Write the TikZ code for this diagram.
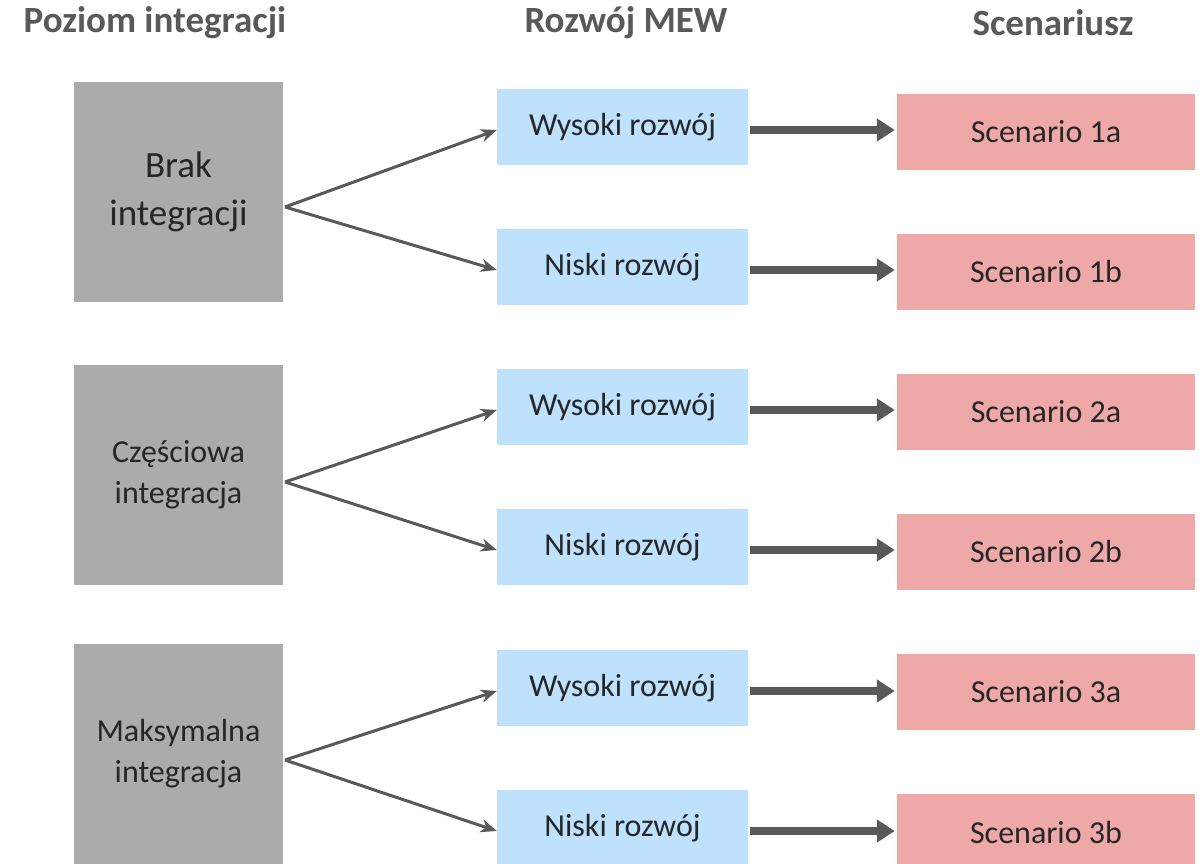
\documentclass[tikz,border=0pt]{standalone}
\usepackage{fontspec}
\setmainfont{Carlito}
\usetikzlibrary{arrows.meta}
\definecolor{boxgray}{RGB}{171,171,171}
\definecolor{boxblue}{RGB}{190,225,254}
\definecolor{boxred}{RGB}{238,168,168}
\definecolor{linegray}{RGB}{89,89,89}
\definecolor{textgray}{RGB}{38,38,38}
\tikzset{
heading/.style={font=\fontsize{37}{42}\selectfont\bfseries, text=linegray},
levelbox/.style={fill=boxgray, minimum width=209pt, minimum height=220pt,
	text=textgray, align=center, inner sep=0pt},
mewbox/.style={fill=boxblue, minimum width=251pt, minimum height=76pt,
	text=textgray, font=\fontsize{32}{38}\selectfont, inner sep=0pt},
scenbox/.style={fill=boxred, minimum width=298pt, minimum height=76pt,
	text=textgray, font=\fontsize{32}{38}\selectfont, inner sep=0pt},
branch/.style={draw=linegray, line width=3pt, -{Stealth[length=16pt,width=13pt,inset=5pt]}},
flow/.style={draw=linegray, line width=8pt, -{Triangle[length=18pt,width=22pt]}}
}

\begin{document}
\begin{tikzpicture}[x=1pt, y=-1pt]
	\useasboundingbox (0,0) rectangle (1202,864);
	\node[heading] (h1) at (155,23) {Poziom integracji};
	\node[heading] (h2) at (626,23) {Rozwój MEW};
	\node[heading] (h3) at (1053,23) {Scenariusz};

	\node[levelbox, font=\fontsize{37}{48}\selectfont] (g1) at (178.5,192) {Brak\\integracji};
	\node[levelbox, font=\fontsize{32}{41}\selectfont] (g2) at (178.5,475) {Częściowa\\integracja};
	\node[levelbox, font=\fontsize{32}{41}\selectfont] (g3) at (178.5,754) {Maksymalna\\integracja};
	\coordinate (b1) at (285,207);
	\coordinate (b2) at (285,482);
	\coordinate (b3) at (285,760);

	\node[mewbox] (w1) at (622.5,127) {Wysoki rozwój};
	\node[mewbox] (n1) at (622.5,267) {Niski rozwój};
	\node[mewbox] (w2) at (622.5,407) {Wysoki rozwój};
	\node[mewbox] (n2) at (622.5,547) {Niski rozwój};
	\node[mewbox] (w3) at (622.5,688) {Wysoki rozwój};
	\node[mewbox] (n3) at (622.5,828) {Niski rozwój};

	\node[scenbox] (s1a) at (1046,132) {Scenario 1a};
	\node[scenbox] (s1b) at (1046,272) {Scenario 1b};
	\node[scenbox] (s2a) at (1046,412) {Scenario 2a};
	\node[scenbox] (s2b) at (1046,552) {Scenario 2b};
	\node[scenbox] (s3a) at (1046,692) {Scenario 3a};
	\node[scenbox] (s3b) at (1046,832) {Scenario 3b};

	\draw[branch] (b1) -- ([yshift=-3pt]w1.west);
	\draw[branch] (b1) -- ([yshift=-3pt]n1.west);
	\draw[branch] (b2) -- ([yshift=-3pt]w2.west);
	\draw[branch] (b2) -- ([yshift=-3pt]n2.west);
	\draw[branch] (b3) -- ([yshift=-3pt]w3.west);
	\draw[branch] (b3) -- ([yshift=-3pt]n3.west);

	\draw[flow] ([xshift=2pt,yshift=-3pt]w1.east) -- ([xshift=-2pt,yshift=-3pt]w1.east -| s1a.west);
	\draw[flow] ([xshift=2pt,yshift=-3pt]n1.east) -- ([xshift=-2pt,yshift=-3pt]n1.east -| s1b.west);
	\draw[flow] ([xshift=2pt,yshift=-3pt]w2.east) -- ([xshift=-2pt,yshift=-3pt]w2.east -| s2a.west);
	\draw[flow] ([xshift=2pt,yshift=-3pt]n2.east) -- ([xshift=-2pt,yshift=-3pt]n2.east -| s2b.west);
	\draw[flow] ([xshift=2pt,yshift=-3pt]w3.east) -- ([xshift=-2pt,yshift=-3pt]w3.east -| s3a.west);
	\draw[flow] ([xshift=2pt,yshift=-3pt]n3.east) -- ([xshift=-2pt,yshift=-3pt]n3.east -| s3b.west);
\end{tikzpicture}
\end{document}
